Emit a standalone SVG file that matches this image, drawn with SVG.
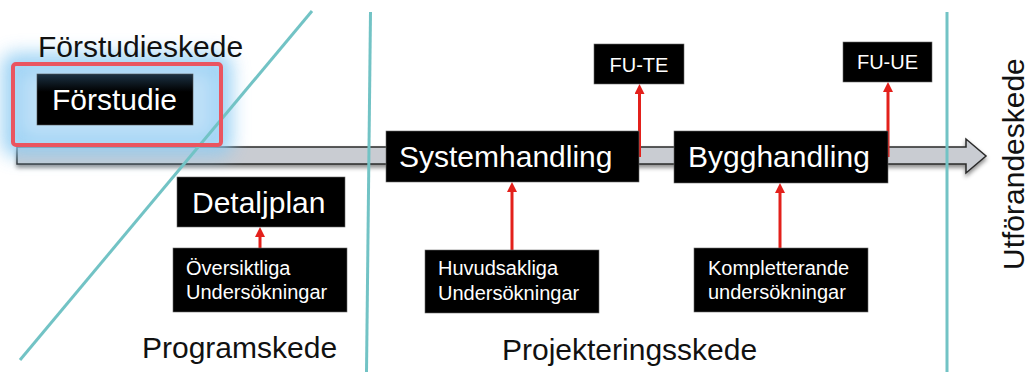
<svg xmlns="http://www.w3.org/2000/svg" width="1031" height="372" viewBox="0 0 1031 372">
<style>
.t{font-family:"Liberation Sans",Arial,sans-serif;}
.h{font-size:30px;fill:#111;}
.box{fill:#000;stroke:#6a6a6a;stroke-width:0.6;}
.big{font-size:30px;fill:#fff;}
.sm{font-size:20px;fill:#fff;}
.teal{stroke:#72c3c5;stroke-width:3;fill:none;}
.red{stroke:#e3201b;stroke-width:3;fill:none;marker-end:url(#ah);}
</style>
<defs>
<marker id="ah" markerUnits="userSpaceOnUse" markerWidth="10" markerHeight="10" viewBox="0 0 10 10" refX="4" refY="5" orient="auto">
<path d="M0,0 L10,5 L0,10 z" fill="#e3201b"/>
</marker>
<filter id="sh" x="-5%" y="-50%" width="110%" height="200%">
<feDropShadow dx="0" dy="3" stdDeviation="2" flood-color="#000" flood-opacity="0.45"/>
</filter>
<filter id="glow" x="-40%" y="-60%" width="180%" height="220%">
<feGaussianBlur stdDeviation="9"/>
</filter>
<linearGradient id="fg" x1="0" y1="0" x2="0" y2="1">
<stop offset="0" stop-color="#1c3244"/>
<stop offset="0.35" stop-color="#000"/>
<stop offset="1" stop-color="#000"/>
</linearGradient>
</defs>

<g id="timeline-arrow">
<path d="M17,147 L966,147 L966,139 L986,156 L966,173 L966,164 L17,164 Z" fill="#c9ccd2" stroke="#2a2a2a" stroke-width="1.5" filter="url(#sh)"/>
</g>

<g id="highlight-glow">
<rect x="12" y="63" width="210" height="83" rx="3" fill="#b4dcf7" stroke="#8ccbf3" stroke-width="20" opacity="0.85" filter="url(#glow)"/>
</g>

<g id="dividers">
<line class="teal" x1="312" y1="11" x2="20" y2="360"/>
<line class="teal" x1="370.5" y1="12" x2="366.5" y2="372"/>
<line class="teal" x1="947" y1="12" x2="947" y2="372"/>
</g>

<g id="forstudie-frame">
<rect x="13" y="64" width="208" height="81" rx="3" fill="none" stroke="#ea5560" stroke-width="4"/>
</g>

<g id="phase-labels">
<text class="t h" x="38" y="57">Förstudieskede</text>
<text class="t h" x="142" y="358">Programskede</text>
<text class="t h" x="502" y="360">Projekteringsskede</text>
<text class="t h" transform="translate(1024,270) rotate(-90)">Utförandeskede</text>
</g>

<g id="connectors">
<line class="red" x1="260" y1="248" x2="260" y2="233"/>
<line class="red" x1="512" y1="250" x2="512" y2="188"/>
<line class="red" x1="780" y1="248" x2="780" y2="189"/>
<line class="red" x1="639.5" y1="157" x2="639.5" y2="90"/>
<line class="red" x1="888" y1="157" x2="888" y2="88"/>
</g>

<g id="forstudie">
<rect x="37" y="74" width="156" height="51" fill="url(#fg)" stroke="#555" stroke-width="0.6"/>
<text class="t big" x="52" y="110">Förstudie</text>
</g>

<g id="detaljplan">
<rect class="box" x="177" y="177" width="168" height="50"/>
<text class="t big" x="192" y="213">Detaljplan</text>
</g>

<g id="oversiktliga">
<rect class="box" x="173" y="248" width="174" height="64"/>
<text class="t sm" x="186" y="275">Översiktliga</text>
<text class="t sm" x="186" y="299">Undersökningar</text>
</g>

<g id="systemhandling">
<rect class="box" x="386" y="131" width="253" height="51"/>
<text class="t big" x="399" y="167">Systemhandling</text>
</g>

<g id="fu-te">
<rect class="box" x="594" y="44" width="90" height="40"/>
<text class="t sm" x="639" y="72" text-anchor="middle">FU-TE</text>
</g>

<g id="huvudsakliga">
<rect class="box" x="425" y="250" width="174" height="63"/>
<text class="t sm" x="438" y="275">Huvudsakliga</text>
<text class="t sm" x="438" y="300">Undersökningar</text>
</g>

<g id="bygghandling">
<rect class="box" x="674" y="131" width="214" height="52"/>
<text class="t big" x="688" y="167">Bygghandling</text>
</g>

<g id="fu-ue">
<rect class="box" x="843" y="42" width="89" height="40"/>
<text class="t sm" x="887.5" y="69" text-anchor="middle">FU-UE</text>
</g>

<g id="kompletterande">
<rect class="box" x="694" y="248" width="174" height="64"/>
<text class="t sm" x="708" y="275">Kompletterande</text>
<text class="t sm" x="708" y="299">undersökningar</text>
</g>
</svg>
